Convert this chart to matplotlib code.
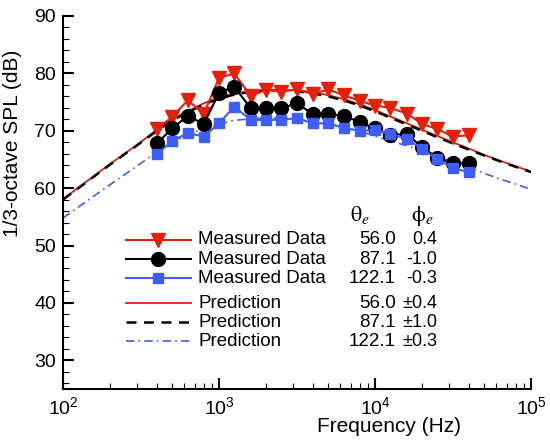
import numpy as np
import matplotlib
matplotlib.use("Agg")
import matplotlib.pyplot as plt
from matplotlib.lines import Line2D
from matplotlib.ticker import FixedLocator, FuncFormatter, MultipleLocator

plt.rcParams['font.family'] = ['Liberation Sans', 'DejaVu Sans']
plt.rcParams['mathtext.fontset'] = 'custom'
plt.rcParams['mathtext.rm'] = 'Liberation Sans'
plt.rcParams['mathtext.it'] = 'Liberation Sans:italic'
plt.rcParams['mathtext.default'] = 'regular'

# measured 1/3-octave band data
freq_meas = [400, 500, 630, 800, 1000, 1250, 1600, 2000, 2500, 3150, 4000,
             5000, 6300, 8000, 10000, 12500, 16000, 20000, 25000, 31500, 40000]
spl_56 = [70.3, 72.4, 75.3, 73.0, 79.2, 80.0, 76.1, 77.1, 76.8, 77.2, 76.4,
          77.2, 76.2, 75.2, 74.4, 74.0, 73.0, 71.2, 70.3, 69.0, 69.2]
spl_87 = [67.8, 70.4, 72.6, 71.2, 76.6, 77.7, 73.9, 73.9, 73.9, 74.8, 72.9,
          72.9, 72.6, 71.5, 70.4, 69.3, 69.4, 67.2, 65.3, 64.3, 64.3]
spl_122 = [65.9, 68.2, 69.6, 69.0, 71.3, 74.2, 71.9, 71.9, 71.9, 72.2, 71.3,
           71.3, 70.5, 70.0, 70.1, 69.5, 68.6, 66.8, 65.1, 63.5, 62.8]

# predictions
freq_pred = [100, 200, 300, 400, 500, 630, 800, 1000, 1250, 1600, 2000, 2500,
             3150, 4000, 5000, 6300, 8000, 10000, 12500, 16000, 20000, 25000,
             31500, 40000, 50000, 63000, 80000, 100000]
pred_56 = [58.1, 64.2, 67.6, 70.2, 72.0, 73.4, 74.8, 75.8, 76.5, 76.9, 77.1, 77.2,
           77.1, 76.7, 76.2, 75.5, 74.6, 73.6, 72.5, 71.3, 70.2, 69.1,
           68.0, 66.9, 65.8, 64.8, 63.8, 62.9]
pred_87 = [58.0, 64.1, 67.5, 70.0, 71.8, 73.2, 74.6, 75.6, 76.3, 76.8, 77.0, 77.0,
           76.9, 76.5, 76.0, 75.3, 74.4, 73.4, 72.3, 71.1, 70.0, 68.9,
           67.8, 66.7, 65.7, 64.7, 63.7, 62.8]
pred_122 = [54.8, 60.6, 63.9, 66.3, 67.9, 69.3, 70.4, 71.2, 71.8, 72.1, 72.2, 72.2,
            72.0, 71.6, 71.2, 70.6, 69.9, 69.1, 68.2, 67.4, 66.5, 65.6,
            64.6, 63.6, 62.6, 61.6, 60.7, 59.8]

theta_e = ['56.0', '87.1', '122.1', '56.0', '87.1', '122.1']
phi_e = ['0.4', '-1.0', '-0.3', '\u00b10.4', '\u00b11.0', '\u00b10.3']
leg_labels = ['Measured Data'] * 3 + ['Prediction'] * 3

red = '#e4200a'
blue = '#3f5df8'

fig = plt.figure(figsize=(5.5, 4.4), dpi=100)
W, H = 550.0, 440.0
ax = fig.add_axes([63 / W, 1 - 389 / H, 468 / W, 373 / H])

ax.plot(freq_pred, pred_56, color=red, lw=1.3, zorder=2)
ax.plot(freq_pred, pred_87, color='black', lw=1.8, dashes=(4, 3), zorder=2)
ax.plot(freq_pred, pred_122, color=blue, lw=1.2, dashes=(5, 2.5, 1, 2.5), zorder=2)

ax.plot(freq_meas, spl_56, color=red, lw=1.5, marker='v', ms=9.5, zorder=3)
ax.plot(freq_meas, spl_87, color='black', lw=1.5, marker='o', ms=10, zorder=3)
ax.plot(freq_meas, spl_122, color=blue, lw=1.5, marker='s', ms=7.5, zorder=3)

ax.set_xscale('log')
ax.set_xlim(100, 100000)
ax.set_ylim(25, 90)
for s in ['top', 'right']:
    ax.spines[s].set_visible(False)
for s in ['left', 'bottom']:
    ax.spines[s].set_linewidth(1.5)

ax.xaxis.set_major_locator(FixedLocator([1e2, 1e3, 1e4, 1e5]))
ax.xaxis.set_major_formatter(FuncFormatter(lambda v, p: r'$10^{%d}$' % round(np.log10(v))))
ax.xaxis.set_minor_locator(FixedLocator([m * 10 ** d for d in [2, 3, 4] for m in range(2, 10)]))
ax.yaxis.set_major_locator(MultipleLocator(10))
ax.yaxis.set_minor_locator(MultipleLocator(2))
ax.set_yticks([30, 40, 50, 60, 70, 80, 90])
ax.tick_params(which='major', direction='in', length=8, width=1.5, labelsize=14, pad=5)
ax.tick_params(which='minor', direction='in', length=4, width=0.8)

ax.set_xlabel('Frequency (Hz)', fontsize=15)
ax.set_ylabel('1/3-octave SPL (dB)', fontsize=15)
ax.xaxis.set_label_coords(0.697, -0.075)
ax.yaxis.set_label_coords(-0.088, 0.66)

# table-like legend, placed in pixel positions
def fx(x):
    return x / W

def fy(y):
    return 1 - y / H

rows_y = [240, 259, 278, 303, 322, 341]
styles = [dict(color=red, lw=1.5, marker='v', ms=9.5),
          dict(color='black', lw=1.5, marker='o', ms=10),
          dict(color=blue, lw=1.5, marker='s', ms=7.5),
          dict(color=red, lw=1.3),
          dict(color='black', lw=1.8, dashes=(4, 3)),
          dict(color=blue, lw=1.2, dashes=(5, 2.5, 1, 2.5))]
for i, y in enumerate(rows_y):
    st = dict(styles[i])
    mk = st.pop('marker', None)
    ms = st.pop('ms', None)
    fig.add_artist(Line2D([fx(126), fx(191)], [fy(y), fy(y)], transform=fig.transFigure, **st))
    if mk:
        fig.add_artist(Line2D([fx(158)], [fy(y)], transform=fig.transFigure,
                              marker=mk, ms=ms, color=st['color'], lw=0))
    fig.text(fx(198), fy(y), leg_labels[i], fontsize=13.5, va='center', ha='left')
    fig.text(fx(396), fy(y), theta_e[i], fontsize=13.5, va='center', ha='right')
    fig.text(fx(437), fy(y), phi_e[i], fontsize=13, va='center', ha='right')

fig.text(fx(360), fy(216), r'$\mathrm{\theta}_{\mathit{e}}$', fontsize=16, va='center',
         ha='center', math_fontfamily='stix')
fig.text(fx(422), fy(216), r'$\mathrm{\phi}_{\mathit{e}}$', fontsize=16, va='center',
         ha='center', math_fontfamily='stix')

fig.savefig('out.png', dpi=100)
